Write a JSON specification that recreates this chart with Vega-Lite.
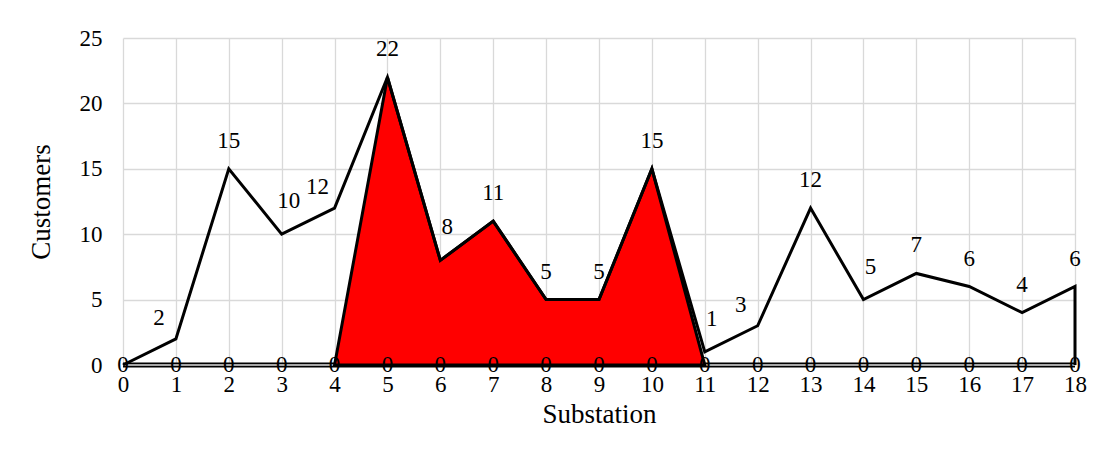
{
  "$schema": "https://vega.github.io/schema/vega-lite/v6.json",
  "autosize": "none",
  "width": 952,
  "height": 327,
  "padding": {"left": 123, "top": 38, "right": 38, "bottom": 107},
  "background": "white",
  "config": {
    "view": {"stroke": null},
    "font": "Liberation Serif",
    "axis": {
      "labelFont": "Liberation Serif",
      "titleFont": "Liberation Serif",
      "labelFontSize": 23,
      "titleFontSize": 27,
      "titleFontWeight": "normal",
      "labelColor": "#000000",
      "titleColor": "#000000",
      "gridColor": "#d9d9d9",
      "gridWidth": 1.3,
      "ticks": false,
      "domain": false
    }
  },
  "datasets": {
    "main": [
      {"x": 0, "customers": 0, "seq": 0},
      {"x": 1, "customers": 2, "seq": 1},
      {"x": 2, "customers": 15, "seq": 2},
      {"x": 3, "customers": 10, "seq": 3},
      {"x": 4, "customers": 12, "seq": 4},
      {"x": 5, "customers": 22, "seq": 5},
      {"x": 6, "customers": 8, "seq": 6},
      {"x": 7, "customers": 11, "seq": 7},
      {"x": 8, "customers": 5, "seq": 8},
      {"x": 9, "customers": 5, "seq": 9},
      {"x": 10, "customers": 15, "seq": 10},
      {"x": 11, "customers": 1, "seq": 11},
      {"x": 12, "customers": 3, "seq": 12},
      {"x": 13, "customers": 12, "seq": 13},
      {"x": 14, "customers": 5, "seq": 14},
      {"x": 15, "customers": 7, "seq": 15},
      {"x": 16, "customers": 6, "seq": 16},
      {"x": 17, "customers": 4, "seq": 17},
      {"x": 18, "customers": 6, "seq": 18},
      {"x": 18, "customers": 0, "seq": 19}
    ],
    "shaded": [
      {"x": 4, "customers": 0},
      {"x": 5, "customers": 22},
      {"x": 6, "customers": 8},
      {"x": 7, "customers": 11},
      {"x": 8, "customers": 5},
      {"x": 9, "customers": 5},
      {"x": 10, "customers": 15},
      {"x": 11, "customers": 0}
    ],
    "zero": [
      {"x": 0, "customers": 0}, {"x": 1, "customers": 0}, {"x": 2, "customers": 0},
      {"x": 3, "customers": 0}, {"x": 4, "customers": 0}, {"x": 5, "customers": 0},
      {"x": 6, "customers": 0}, {"x": 7, "customers": 0}, {"x": 8, "customers": 0},
      {"x": 9, "customers": 0}, {"x": 10, "customers": 0}, {"x": 11, "customers": 0},
      {"x": 12, "customers": 0}, {"x": 13, "customers": 0}, {"x": 14, "customers": 0},
      {"x": 15, "customers": 0}, {"x": 16, "customers": 0}, {"x": 17, "customers": 0},
      {"x": 18, "customers": 0}
    ]
  },
  "encoding": {
    "x": {
      "field": "x", "type": "quantitative",
      "scale": {"domain": [0, 18], "nice": false, "zero": false},
      "axis": {"values": [0,1,2,3,4,5,6,7,8,9,10,11,12,13,14,15,16,17,18], "title": "Substation", "labelPadding": 8, "titlePadding": 5, "labelFlush": false}
    },
    "y": {
      "field": "customers", "type": "quantitative",
      "scale": {"domain": [0, 25], "nice": false},
      "axis": {"values": [0,5,10,15,20,25], "title": "Customers", "labelPadding": 21, "titlePadding": 24}
    }
  },
  "layer": [
    {
      "data": {"name": "zero"},
      "mark": {"type": "line", "color": "#000000", "strokeWidth": 5}
    },
    {
      "data": {"name": "zero"},
      "mark": {"type": "line", "color": "#a6a6a6", "strokeWidth": 2}
    },
    {
      "data": {"name": "shaded"},
      "mark": {"type": "area", "color": "#ff0000", "stroke": "#000000", "strokeWidth": 3, "opacity": 1, "strokeJoin": "miter"}
    },
    {
      "data": {"name": "main"},
      "mark": {"type": "line", "color": "#000000", "strokeWidth": 3},
      "encoding": {"order": {"field": "seq", "type": "quantitative"}}
    },
    {
      "data": {"name": "zero"},
      "mark": {"type": "text", "fontSize": 23, "baseline": "middle", "color": "#000000"},
      "encoding": {"text": {"field": "customers", "type": "quantitative"}}
    },
    {
      "data": {"name": "main"},
      "transform": [{"filter": "datum.seq <= 18 && indexof([0,1,3,4,6,11,12,14], datum.x) < 0"}],
      "mark": {"type": "text", "fontSize": 23, "baseline": "middle", "dy": -28, "color": "#000000"},
      "encoding": {"text": {"field": "customers", "type": "quantitative"}}
    },
    {
      "data": {"name": "main"},
      "transform": [{"filter": "indexof([3,6,11,14], datum.x) >= 0"}],
      "mark": {"type": "text", "fontSize": 23, "baseline": "middle", "dx": 7, "dy": -33, "color": "#000000"},
      "encoding": {"text": {"field": "customers", "type": "quantitative"}}
    },
    {
      "data": {"name": "main"},
      "transform": [{"filter": "indexof([1,4,12], datum.x) >= 0"}],
      "mark": {"type": "text", "fontSize": 23, "baseline": "middle", "dx": -17, "dy": -21, "color": "#000000"},
      "encoding": {"text": {"field": "customers", "type": "quantitative"}}
    }
  ]
}
